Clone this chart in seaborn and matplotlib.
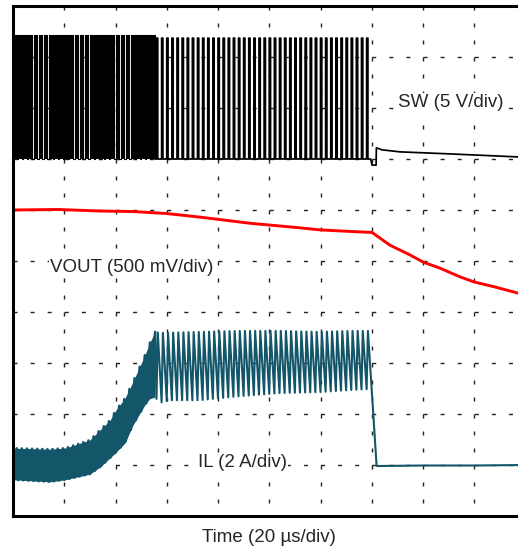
import numpy as np
import pandas as pd
import matplotlib
matplotlib.use('Agg')
import matplotlib.pyplot as plt
import seaborn as sns

# scope screen: time in us (20 us/div), traces in screen divisions (0 = bottom)
sw_period = 2.0            # us, switching period read from pulse spacing
sw_cycles = 70             # pulses before switching stops
sw_transition = 56.0       # us, end of the high-duty part
sw_duty_dense = 0.72
sw_duty_sparse = 0.25
sw_low = 7.0
sw_high_dense = 9.43
sw_high_sparse = 9.37
sw_tail_t = [139.6, 140.1, 141.7, 141.8, 144.0, 151.0, 170.5, 196.7, 200.0]
sw_tail_d = [7.0, 6.88, 6.88, 7.22, 7.18, 7.14, 7.10, 7.04, 7.04]

vout_t = [0.0, 17.6, 34.0, 46.8, 53.5, 60.1, 73.0, 92.5, 112.0, 119.8, 131.5,
          140.1, 147.1, 154.9, 160.0, 166.6, 174.4, 179.9, 188.1, 197.1, 200.0]
vout_d = [6.0, 6.01, 5.98, 5.97, 5.95, 5.93, 5.86, 5.74, 5.65, 5.61, 5.58,
          5.56, 5.31, 5.12, 4.98, 4.86, 4.69, 4.59, 4.49, 4.37, 4.33]

il_peak_t = [0.0, 14.4, 20.3, 30.0, 34.0, 37.9, 40.2, 43.7, 46.8, 51.5, 53.5,
             55.4, 57.4, 73.0, 88.6, 104.2, 119.8, 131.5, 139.3]
il_peak_d = [1.33, 1.31, 1.33, 1.49, 1.69, 1.88, 2.08, 2.31, 2.63, 3.16, 3.41,
             3.61, 3.59, 3.61, 3.63, 3.63, 3.61, 3.63, 3.63]
il_trough_t = [0.0, 14.4, 20.3, 30.0, 34.0, 37.9, 40.2, 43.7, 46.8, 51.5, 53.5,
               55.4, 57.4, 61.3, 73.0, 88.6, 104.2, 119.8, 131.5, 139.3]
il_trough_d = [0.71, 0.67, 0.71, 0.82, 0.96, 1.14, 1.25, 1.43, 1.78, 2.18, 2.31,
               2.33, 2.22, 2.27, 2.27, 2.35, 2.41, 2.43, 2.47, 2.49]
il_tail_t = [141.9, 160.0, 180.0, 200.0]
il_tail_d = [0.98, 0.99, 0.99, 1.0]

# build the switching traces cycle by cycle
sw_t, sw_d, sw_part, il_t, il_d, il_part = [], [], [], [], [], []
for k in range(sw_cycles):
    t0 = k * sw_period
    dense = t0 < sw_transition
    part = 'dense' if dense else 'sparse'
    duty = sw_duty_dense if dense else sw_duty_sparse
    hi = sw_high_dense if dense else sw_high_sparse
    t_on = t0 + duty * sw_period
    sw_t += [t0, t0, t_on, t_on]
    sw_d += [sw_low, hi, hi, sw_low]
    sw_part += [part] * 4
    il_t += [t0, t_on]
    il_d += [np.interp(t0, il_trough_t, il_trough_d), np.interp(t_on, il_peak_t, il_peak_d)]
    il_part += [part] * 2
sw_t += sw_tail_t
sw_d += sw_tail_d
sw_part += ['sparse'] * len(sw_tail_t)
il_t += il_tail_t
il_d += il_tail_d
il_part += ['sparse'] * len(il_tail_t)

sw = pd.DataFrame({'t': sw_t, 'div': sw_d, 'part': sw_part})
il = pd.DataFrame({'t': il_t, 'div': il_d, 'part': il_part})
vout = pd.DataFrame({'t': vout_t, 'div': vout_d})
sw_dense = sw[sw['part'] == 'dense']
sw_sparse = sw.iloc[len(sw_dense) - 1:]
il_dense = il[il['part'] == 'dense']
# sparse parts start from the last dense point so the traces stay joined
il_sparse = il.iloc[len(il_dense) - 1:]
n_env = 12  # envelope points inside the dense part

sns.set_style('white')
plt.rcParams['font.family'] = ['Liberation Sans', 'DejaVu Sans']

fig = plt.figure(figsize=(5.18, 5.50), dpi=100)
ax = fig.add_axes([13 / 518, 34 / 550, 512.5 / 518, 510 / 550])

teal = '#13566a'
# persistence look of the fast switching part
ax.fill_between(sw_dense['t'], sw_low, sw_dense['div'], color='black', lw=0)
ax.fill_between(il_peak_t[:n_env], il_trough_d[:n_env], il_peak_d[:n_env], color=teal, lw=0)

sns.lineplot(data=sw_dense, x='t', y='div', estimator=None, sort=False, color='black', lw=0.8, ax=ax)
sns.lineplot(data=sw_sparse, x='t', y='div', estimator=None, sort=False, color='black', lw=1.25, ax=ax)
sns.lineplot(data=vout, x='t', y='div', estimator=None, sort=False, color='#ff0000', lw=2.1, ax=ax)
sns.lineplot(data=il_dense, x='t', y='div', estimator=None, sort=False, color=teal, lw=1.8, ax=ax)
sns.lineplot(data=il_sparse, x='t', y='div', estimator=None, sort=False, color=teal, lw=1.5, ax=ax)

ax.set_xlim(0, 200)
ax.set_ylim(0, 10)
ax.set_xticks(np.arange(0, 201, 20))
ax.set_yticks(np.arange(0, 11, 1))
ax.tick_params(length=0, labelbottom=False, labelleft=False)
ax.set_ylabel('')
ax.xaxis.grid(True, color='#222222', lw=1.0, linestyle=(2.9, (2.9, 9.34)))
ax.yaxis.grid(True, color='#222222', lw=1.0, linestyle=(0, (2.9, 9.4)))
ax.set_axisbelow(True)
for side in ['left', 'top', 'bottom', 'right']:
    ax.spines[side].set_linewidth(2.2)
    ax.spines[side].set_color('black')

box = dict(facecolor='white', edgecolor='none', pad=1)
ax.text(150.2, 8.1, 'SW (5 V/div)', fontsize=13.5, va='center', bbox=box)
ax.text(14.4, 4.88, 'VOUT (500 mV/div)', fontsize=13.5, va='center', bbox=box)
ax.text(72.2, 1.04, 'IL (2 A/div)', fontsize=13.5, va='center', bbox=box)
ax.set_xlabel('Time (20 µs/div)', fontsize=13.5, labelpad=9)

fig.savefig('out.png', dpi=100)
